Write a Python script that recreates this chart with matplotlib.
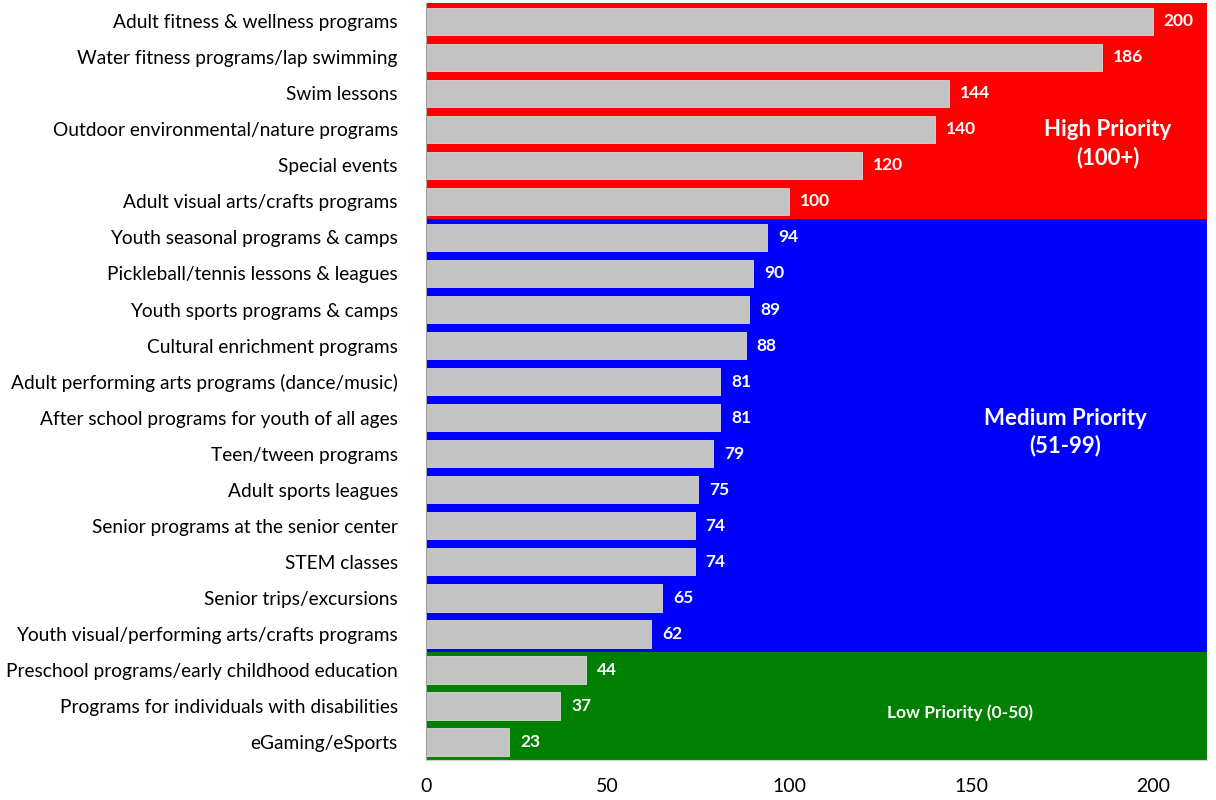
import matplotlib
matplotlib.use("Agg")
from matplotlib import pyplot as plt

plt.rcParams['font.family'] = ['Lato', 'DejaVu Sans']

programs = [
    "Adult fitness & wellness programs",
    "Water fitness programs/lap swimming",
    "Swim lessons",
    "Outdoor environmental/nature programs",
    "Special events",
    "Adult visual arts/crafts programs",
    "Youth seasonal programs & camps",
    "Pickleball/tennis lessons & leagues",
    "Youth sports programs & camps",
    "Cultural enrichment programs",
    "Adult performing arts programs (dance/music)",
    "After school programs for youth of all ages",
    "Teen/tween programs",
    "Adult sports leagues",
    "Senior programs at the senior center",
    "STEM classes",
    "Senior trips/excursions",
    "Youth visual/performing arts/crafts programs",
    "Preschool programs/early childhood education",
    "Programs for individuals with disabilities",
    "eGaming/eSports",
]
scores = [200, 186, 144, 140, 120, 100, 94, 90, 89, 88, 81, 81, 79, 75, 74, 74,
          65, 62, 44, 37, 23]

# priority bands: (label, first row, last row, colour)
bands = [
    ("High Priority\n(100+)", 0, 5, "#ff0000"),
    ("Medium Priority\n(51-99)", 6, 17, "#0000ff"),
    ("Low Priority (0-50)", 18, 20, "#008000"),
]

fig = plt.figure(figsize=(12.16, 8), dpi=100)
ax = fig.add_axes([0.350, 0.050, 0.643, 0.946])

n = len(programs)
rows = list(range(n))

for label, first, last, colour in bands:
    ax.axhspan(first - 0.5, last + 0.5, color=colour, zorder=0, lw=0)

ax.barh(rows, scores, height=0.76, color="#c3c3c3", edgecolor="#d8d8d8",
        linewidth=0.6, zorder=2)

for r, v in zip(rows, scores):
    ax.text(v + 3, r, str(v), color="white", fontsize=12.5, fontweight="bold",
            va="center", ha="left", zorder=3)

# band captions
ax.text(187.5, 3.4, bands[0][0], color="white", fontsize=16, fontweight="bold",
        ha="center", va="center", linespacing=1.35)
ax.text(176, 11.4, bands[1][0], color="white", fontsize=16, fontweight="bold",
        ha="center", va="center", linespacing=1.35)
ax.text(147, 19.2, bands[2][0], color="white", fontsize=12.5, fontweight="bold",
        ha="center", va="center")

ax.set_xlim(0, 215)
ax.set_ylim(n - 0.5, -0.5)
ax.set_yticks(rows)
ax.set_yticklabels(programs, fontsize=13.8)
ax.set_xticks([0, 50, 100, 150, 200])
ax.tick_params(axis="both", length=0)
ax.tick_params(axis="x", labelsize=14, pad=13)
ax.tick_params(axis="y", pad=20)

for side in ["top", "right"]:
    ax.spines[side].set_visible(False)
ax.spines["left"].set_color("#a0a0a0")
ax.spines["bottom"].set_color("#d0d0d0")

fig.savefig("out.png", dpi=100)
